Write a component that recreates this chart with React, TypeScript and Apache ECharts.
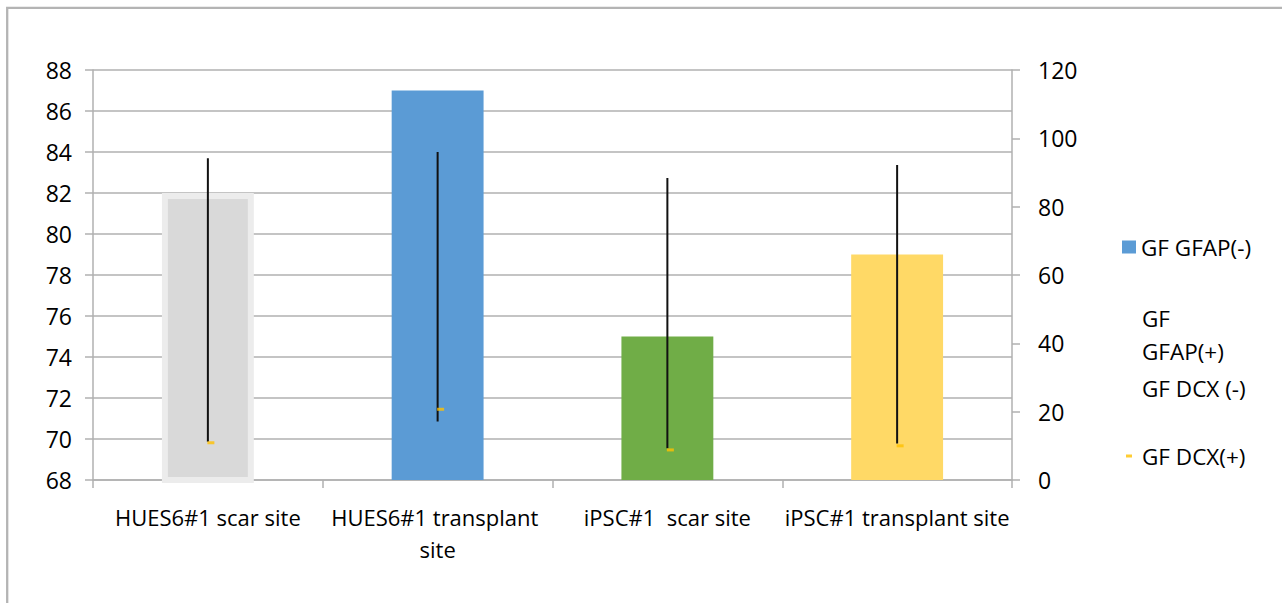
import React, { useEffect, useRef } from "react";
import * as echarts from "echarts";

const categories = [
  "HUES6#1 scar site",
  "HUES6#1 transplant site",
  "iPSC#1  scar site",
  "iPSC#1 transplant site",
];
const gfapNeg = [82, 87, 75, 79];
const barColors = ["#d9d9d9", "#5b9bd5", "#70ad47", "#ffd966"];
const dcxPos = [10.9, 20.7, 8.8, 10.0];
const errLow = [11.2, 17.1, 9.3, 10.7];
const errHigh = [94.2, 96.0, 88.4, 92.2];
const leftTicks = { min: 68, max: 88, interval: 2 };
const rightTicks = { min: 0, max: 120, interval: 20 };

const FONT = "Open Sans";
const GRID = "#b0b0b0";

export default function App() {
  const ref = useRef<HTMLDivElement>(null);
  useEffect(() => {
    if (!ref.current) return;
    const chart = echarts.init(ref.current, null, { renderer: "svg" });
    const legendBase = {
      orient: "vertical",
      padding: 0,
      selectedMode: false,
      itemWidth: 14,
      itemHeight: 13,
      textStyle: { fontFamily: FONT, fontSize: 22.5, lineHeight: 33, color: "#000" },
    };
    chart.setOption({
      animation: false,
      textStyle: { fontFamily: FONT },
      graphic: [
        {
          type: "rect",
          shape: { x: 7.2, y: 7.8, width: 1400, height: 800 },
          style: { fill: "none", stroke: "#b4b4b4", lineWidth: 2.3 },
          silent: true,
        },
      ],
      grid: { left: 93, right: 270, top: 70, bottom: 123, containLabel: false },
      legend: [
        { ...legendBase, left: 1122, top: 230.5, data: [{ name: "GF GFAP(-)", icon: "rect", itemStyle: { color: "#5b9bd5" } }] },
        {
          ...legendBase,
          left: 1123,
          top: 301.5,
          formatter: () => "GF\nGFAP(+)",
          data: [{ name: "GF GFAP(+)", icon: "rect", itemStyle: { opacity: 0 } }],
        },
        { ...legendBase, left: 1123, top: 371.5, data: [{ name: "GF DCX (-)", icon: "rect", itemStyle: { opacity: 0 } }] },
        {
          ...legendBase,
          left: 1126,
          top: 439.5,
          itemWidth: 6,
          itemHeight: 3,
          textStyle: { ...legendBase.textStyle, padding: [0, 0, 0, 5] },
          data: [{ name: "GF DCX(+)", icon: "rect", itemStyle: { color: "#ffc000" } }],
        },
      ],
      xAxis: {
        type: "category",
        data: categories,
        boundaryGap: true,
        axisLine: { show: true, lineStyle: { color: GRID, width: 1.5 } },
        axisTick: { show: true, length: 8, lineStyle: { color: GRID, width: 1.5 } },
        axisLabel: {
          interval: 0,
          margin: 21,
          fontFamily: FONT,
          fontSize: 22,
          lineHeight: 32,
          color: "#000",
          width: 228,
          overflow: "break",
        },
        splitLine: { show: false },
      },
      yAxis: [
        {
          type: "value",
          position: "left",
          ...leftTicks,
          axisLine: { show: true, lineStyle: { color: GRID, width: 1.5 } },
          axisTick: { show: true, length: 8, lineStyle: { color: GRID, width: 1.5 } },
          axisLabel: { margin: 21, fontFamily: FONT, fontSize: 23, color: "#000" },
          splitLine: { show: true, lineStyle: { color: GRID, width: 1.5 } },
        },
        {
          type: "value",
          position: "right",
          ...rightTicks,
          axisLine: { show: true, lineStyle: { color: GRID, width: 1.5 } },
          axisTick: { show: true, length: 8, lineStyle: { color: GRID, width: 1.5 } },
          axisLabel: { margin: 26, fontFamily: FONT, fontSize: 23, color: "#000" },
          splitLine: { show: false },
        },
      ],
      series: [
        {
          name: "GF GFAP(-)",
          type: "bar",
          yAxisIndex: 0,
          barWidth: "40%",
          itemStyle: { color: "#5b9bd5" },
          data: gfapNeg.map((v, i) => ({
            value: v,
            itemStyle:
              i === 0
                ? { color: barColors[i], borderColor: "#ececec", borderWidth: 6 }
                : { color: barColors[i] },
          })),
          z: 2,
        },
        { name: "GF GFAP(+)", type: "line", yAxisIndex: 0, data: [] },
        { name: "GF DCX (-)", type: "line", yAxisIndex: 0, data: [] },
        {
          name: "errorBars",
          type: "custom",
          yAxisIndex: 1,
          z: 3,
          data: categories.map((_, i) => [i, errLow[i], errHigh[i]]),
          renderItem: (params: any, api: any) => {
            const lo = api.coord([api.value(0), api.value(1)]);
            const hi = api.coord([api.value(0), api.value(2)]);
            return {
              type: "line",
              shape: { x1: lo[0], y1: lo[1], x2: hi[0], y2: hi[1] },
              style: { stroke: "#111", lineWidth: 2 },
            };
          },
        },
        {
          name: "GF DCX(+)",
          type: "scatter",
          yAxisIndex: 1,
          symbol: "rect",
          symbolSize: [7, 3],
          symbolOffset: [3, 0],
          itemStyle: { color: "#ffc000" },
          z: 4,
          data: dcxPos,
        },
      ],
    });
    return () => chart.dispose();
  }, []);
  return (
    <div
      ref={ref}
      style={{ position: "fixed", left: 0, top: 0, width: 1282, height: 603, background: "#fff" }}
    />
  );
}
